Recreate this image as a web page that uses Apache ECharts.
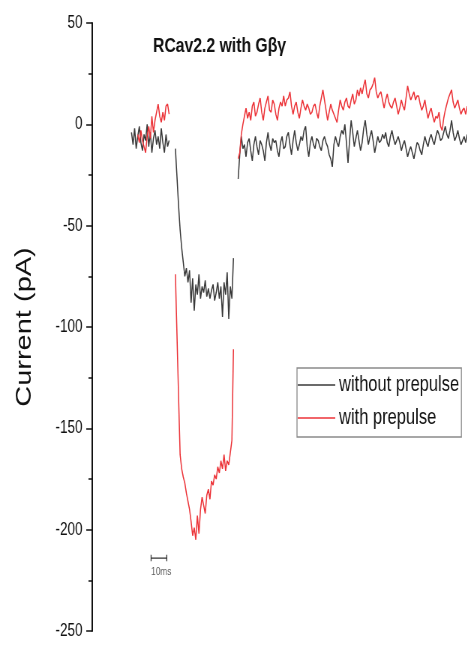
<!DOCTYPE html>
<html>
<head>
<meta charset="utf-8">
<script src="https://cdn.jsdelivr.net/npm/echarts@6/dist/echarts.min.js"></script>
<style>
  html, body { margin: 0; padding: 0; background: #fff; overflow: hidden; }
  /* the original figure is squeezed sideways, so draw it wide and squeeze it back */
  #main { width: 623px; height: 648px; transform: scaleX(0.75); transform-origin: 0 0; }
</style>
</head>
<body>
<div id="main"></div>
<script>
// sampling of the traces, one value per ms from t = 0
const stepMs = 1

// without prepulse (pA), null = blanked capacitive transient
const blackValues = [
  -4, -10, -2, -12, -6, -1, -9, -13, -5, -8,
  0, -11, -4, -14, -7, -3, -10, -6, -12, -2,
  -9, -14, -5, -11, -8, null, null, null, -12, -26,
  -40, -52, -61, -68, -75, -71, -78, -72, -88, -76,
  -92, -79, -84, -74, -86, -80, -83, -77, -85, -81,
  -86, -82, -79, -87, -83, -78, -86, -80, -95, -78,
  -84, -73, -96, -80, -86, -66, null, null, -27, -15,
  -6, -12, -10, -16, -9, -7, -13, -18, -10, -6,
  -11, -15, -8, -10, -13, -18, -9, -4, -10, -13,
  -7, -9, -8, -13, -16, -9, -6, -12, -11, -6,
  -4, -10, -15, -8, -3, -9, -13, -10, -6, -8,
  -3, -1, -11, -16, -9, -6, -10, -12, -7, -8,
  -11, -13, -8, -6, -9, -11, -15, -17, -21, -10,
  -6, -9, -11, -6, -3, -5, 0, -9, -19, -8,
  2, -4, -11, -7, -3, -8, -13, -9, -2, 2,
  -5, -10, -6, -3, -8, -14, -10, -6, -9, -8,
  -5, -7, -4, -9, -11, -6, -3, -7, -10, -8,
  -6, -9, -13, -10, -8, -12, -16, -13, -11, -14,
  -17, -13, -9, -10, -13, -15, -10, -6, -9, -11,
  -7, -5, -8, -10, -6, -3, -5, -8, -7, -4,
  -1, -5, -7, -3, 2, -4, -8, -6, -3, -7,
  -10, -8, -6, -9, -5
]

// with prepulse (pA)
const redValues = [
  null, null, null, null, -5, -9, -3, -8, -11, -14,
  -6, -1, -7, 4, -4, 2, 6, 10, 4, 1,
  6, 2, 9, 10, 5, null, null, null, -74, -104,
  -134, -163, -170, -174, -177, -182, -186, -190, -196, -203,
  -199, -205, -193, -202, -190, -184, -188, -192, -183, -180,
  -185, -176, -178, -173, -175, -169, -172, -166, -170, -163,
  -171, -166, -168, -162, -156, -111, null, null, -17, -14,
  -5, 0, 4, 8, 3, 6, 2, 9, 11, 4,
  6, 10, 13, 6, 2, 8, 11, 14, 7, 6,
  12, 10, 5, 2, 8, 11, 9, 14, 9, 12,
  13, 16, 9, 5, 9, 11, 6, 3, 8, 12,
  9, 7, 10, 8, 5, 6, 9, 10, 6, 3,
  9, 13, 17, 12, 7, 2, 6, 10, 7, 5,
  3, 1, 7, 12, 9, 7, 11, 13, 9, 8,
  12, 15, 10, 12, 17, 14, 18, 15, 19, 22,
  15, 13, 17, 18, 20, 23, 16, 13, 15, 16,
  12, 8, 12, 15, 11, 9, 8, 11, 13, 9,
  5, 8, 12, 9, 7, 13, 19, 15, 12, 14,
  16, 12, 14, 14, 10, 7, 9, 12, 7, 3,
  6, 8, 4, 1, 4, 3, 6, -1, -3, 3,
  7, 10, 13, 15, 17, 11, 8, 10, 12, 8,
  5, 7, 8, 5, 9
]

const seriesNames = ['without prepulse', 'with prepulse']
const yTicks = [-250, -200, -150, -100, -50, 0, 50]

// 10 ms scale bar
const scaleBarMs = 10
const scaleBarStart = 12.5
const scaleBarLevel = -214
const scaleBarLabel = '10ms'

const font = "'Liberation Sans', Arial, sans-serif"

function toPairs (values) {
  return values.map((v, i) => [i * stepMs, v === null ? '-' : v])
}

const capH = 1.6
const scaleBar = [
  [scaleBarStart, scaleBarLevel + capH], [scaleBarStart, scaleBarLevel - capH],
  [scaleBarStart, scaleBarLevel],
  [scaleBarStart + scaleBarMs, scaleBarLevel],
  [scaleBarStart + scaleBarMs, scaleBarLevel + capH], [scaleBarStart + scaleBarMs, scaleBarLevel - capH]
]

let myChart = echarts.init(document.getElementById('main'))
const option = {
  animation: false,
  backgroundColor: '#fff',
  title: {
    text: 'RCav2.2 with Gβγ',
    left: 204,
    top: 36,
    padding: 0,
    textStyle: { fontSize: 21, fontWeight: 'bold', color: '#111', fontFamily: font }
  },
  legend: {
    data: seriesNames,
    orient: 'vertical',
    left: 396,
    top: 368,
    icon: 'rect',
    itemWidth: 50,
    itemHeight: 1.5,
    itemGap: 9,
    padding: [5, 3, 7, 1],
    borderColor: '#8a8a8a',
    borderWidth: 1.3,
    selectedMode: false,
    textStyle: { fontSize: 22, lineHeight: 24, color: '#111', fontFamily: font }
  },
  grid: { left: 123, right: 0, top: 23, bottom: 17, containLabel: false },
  xAxis: { type: 'value', min: -25, max: 214, show: false },
  yAxis: {
    type: 'value',
    min: yTicks[0],
    max: yTicks[yTicks.length - 1],
    interval: 50,
    name: 'Current (pA)',
    nameLocation: 'middle',
    nameRotate: 90,
    nameGap: 76,
    nameTextStyle: { fontSize: 29, color: '#111', fontFamily: font },
    axisLine: { show: true, onZero: false, lineStyle: { color: '#111', width: 2 } },
    axisTick: { show: true, inside: false, length: 8, lineStyle: { color: '#111', width: 1.5 } },
    minorTick: { show: true, splitNumber: 2, length: 5, lineStyle: { color: '#111', width: 1.5 } },
    splitLine: { show: false },
    axisLabel: { fontSize: 18, color: '#111', margin: 13, fontFamily: font }
  },
  series: [
    {
      name: seriesNames[0],
      type: 'line',
      data: toPairs(blackValues),
      symbol: 'none',
      connectNulls: false,
      color: '#3a3a3a',
      lineStyle: { width: 1.5, color: '#3a3a3a' }
    },
    {
      name: seriesNames[1],
      type: 'line',
      data: toPairs(redValues),
      symbol: 'none',
      connectNulls: false,
      color: '#ec3338',
      lineStyle: { width: 1.5, color: '#ec3338' }
    },
    {
      name: 'scale',
      type: 'line',
      data: scaleBar,
      symbol: 'none',
      silent: true,
      lineStyle: { width: 1.3, color: '#333' }
    },
    {
      name: 'scaleLabel',
      type: 'scatter',
      data: [[scaleBarStart + scaleBarMs / 2 + 1.5, scaleBarLevel - 7]],
      symbolSize: 0,
      silent: true,
      label: { show: true, position: 'inside', formatter: scaleBarLabel, fontSize: 11, color: '#333', fontFamily: font }
    }
  ]
}
myChart.setOption(option)
</script>
</body>
</html>
